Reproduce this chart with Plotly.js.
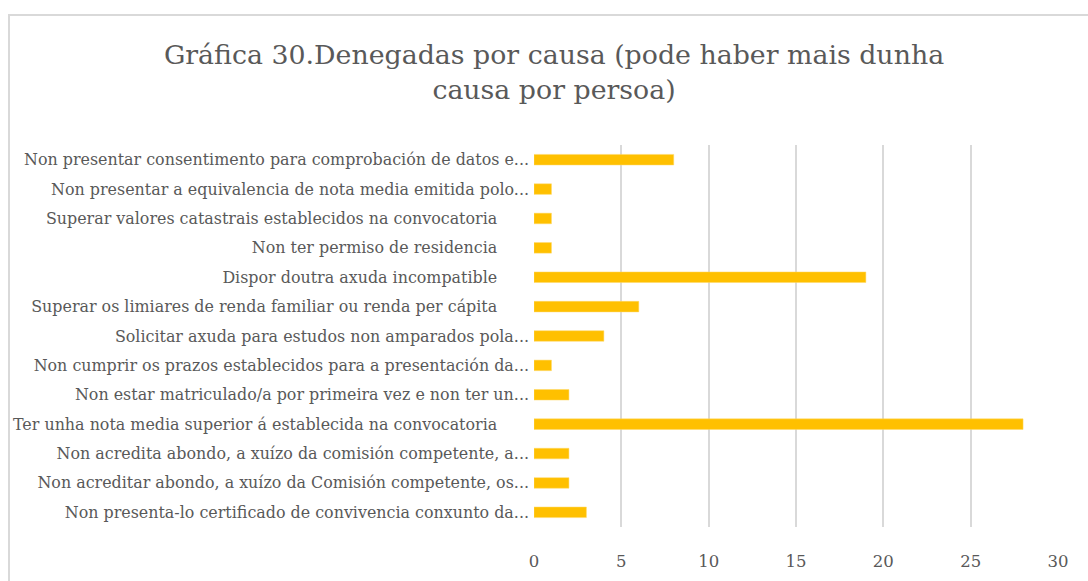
<!DOCTYPE html>
<html>
<head>
<meta charset="utf-8">
<script src="https://cdn.plot.ly/plotly-3.0.1.min.js"></script>
<style>
html,body{margin:0;padding:0;background:#fff;}
#frame{position:absolute;left:8px;top:14px;width:1200px;height:700px;border-left:2px solid #D9D9D9;border-top:2px solid #D9D9D9;box-sizing:border-box;}
#chart{position:absolute;left:0;top:0;width:1088px;height:581px;}
</style>
</head>
<body>
<div id="frame"></div>
<div id="chart"></div>
<script>
const categories = [
  "Non presentar consentimento para comprobación de datos e...",
  "Non presentar a equivalencia de nota media emitida polo...",
  "Superar valores catastrais establecidos na convocatoria\u2003\u2003",
  "Non ter permiso de residencia\u2003\u2003",
  "Dispor doutra axuda incompatible\u2003\u2003",
  "Superar os limiares de renda familiar ou renda per cápita\u2003\u2003",
  "Solicitar axuda para estudos non amparados pola...",
  "Non cumprir os prazos establecidos para a presentación da...",
  "Non estar matriculado/a por primeira vez e non ter un...",
  "Ter unha nota media superior á establecida na convocatoria\u2003\u2003",
  "Non acredita abondo, a xuízo da comisión competente, a...",
  "Non acreditar abondo, a xuízo da Comisión competente, os...",
  "Non presenta-lo certificado de convivencia conxunto da..."
];
const values = [8, 1, 1, 1, 19, 6, 4, 1, 2, 28, 2, 2, 3];
const xTicks = [0, 5, 10, 15, 20, 25, 30];
const titleText = "Gráfica 30.Denegadas por causa (pode haber mais dunha<br>causa por persoa)";

const serif = "DejaVu Serif, Liberation Serif, serif";
const trace = {
  type: "bar",
  orientation: "h",
  y: categories,
  x: values,
  width: 0.36,
  marker: {color: "#FFC000", line: {color: "#FFD966", width: 0.5}},
  hoverinfo: "x+y"
};
const layout = {
  width: 1088, height: 581,
  paper_bgcolor: "rgba(0,0,0,0)",
  plot_bgcolor: "rgba(0,0,0,0)",
  margin: {l: 534, r: 30, t: 145, b: 54},
  showlegend: false,
  title: {
    text: titleText,
    font: {family: serif, size: 26.8, color: "#595959"},
    x: 554/1088, xref: "container", xanchor: "center",
    y: 1 - 64/581, yref: "container", yanchor: "top"
  },
  xaxis: {
    range: [0, 30],
    tickvals: xTicks,
    ticktext: xTicks.map(String),
    showgrid: true, gridcolor: "#D9D9D9", gridwidth: 2,
    zeroline: false, showline: false, ticks: "",
    ticklabelstandoff: 22,
    tickfont: {family: serif, size: 16.5, color: "#595959"},
    fixedrange: true
  },
  yaxis: {
    type: "category",
    autorange: "reversed",
    showgrid: false, zeroline: false, showline: false, ticks: "",
    ticklabelstandoff: 4,
    tickfont: {family: serif, size: 15.9, color: "#595959"},
    fixedrange: true
  }
};
Plotly.newPlot("chart", [trace], layout, {displayModeBar: false, staticPlot: true});
</script>
</body>
</html>
